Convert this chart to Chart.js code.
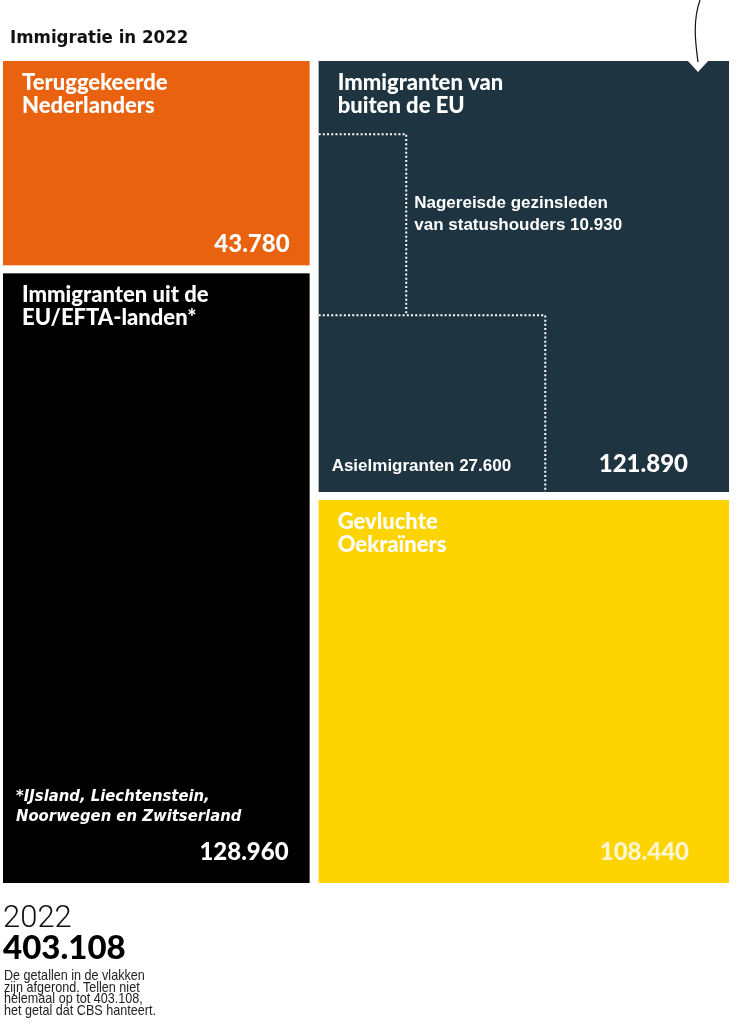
<!DOCTYPE html>
<html>
<head>
<meta charset="utf-8">
<script src="https://cdn.jsdelivr.net/npm/chart.js@4"></script>
<style>
    body { margin: 0; background: #fff; }
    #wrap { position: relative; width: 741px; height: 1024px; }
    #title { position: absolute; left: 10px; top: 26px; font: bold 18.5px "DejaVu Sans Condensed", sans-serif; color: #111; }
    #jaar { position: absolute; left: 3px; top: 898px; font: 300 31px Roboto, sans-serif; color: #111; }
    #totaal { position: absolute; left: 3px; top: 926px; font: 900 33px Lato, sans-serif; color: #000; }
    #noot { position: absolute; left: 4px; top: 969px; font: 15px/11.7px "Liberation Sans", sans-serif; color: #222;
            transform: scaleX(0.84); transform-origin: left top; white-space: nowrap; }
</style>
</head>
<body>
<div id="wrap">
    <div id="title">Immigratie in 2022</div>
    <canvas id="grafiek"></canvas>
    <div id="jaar">2022</div>
    <div id="totaal">403.108</div>
    <div id="noot">De getallen in de vlakken<br>zijn afgerond. Tellen niet<br>helemaal op tot 403.108,<br>het getal dat CBS hanteert.</div>
</div>
<script>
// Gegevens
var categorieen = [['Teruggekeerde', 'Nederlanders'], ['Immigranten uit de', 'EU/EFTA-landen*'], ['Immigranten van', 'buiten de EU'], ['Gevluchte', 'Oekraïners']];
var waarden = [43780, 128960, 121890, 108440];
var kolommen = [0, 0, 1, 1];
var subCategorieen = [['Nagereisde gezinsleden', 'van statushouders'], ['Asielmigranten']];
var subWaarden = [10930, 27600];

// Opmaak
var kleuren = ['#e8620f', '#000000', '#1e3440', '#fdd300'];
var waardeKleuren = ['#ffffff', '#ffffff', '#ffffff', '#fff6d0'];
var waardeInspring = [[20, 21], [21, 31], [41, 28], [40, 31]];
var gatX = 9, gatY = 8;
var kop = '900 22px Lato, sans-serif';
var getalFont = '900 24px Lato, sans-serif';
var subFont = 'bold 17px "Liberation Sans", Arial, sans-serif';

var totaal = waarden.reduce((a, b) => a + b, 0);
var fmt = v => v.toLocaleString('nl-NL');

// treemap: kolommen (slice) en daarbinnen gestapeld (dice)
function berekenVlakken() {
    var kolomTotaal = [0, 0];
    waarden.forEach((v, i) => kolomTotaal[kolommen[i]] += v);
    var xStart = [0, kolomTotaal[0]];
    var yPos = [0, 0];
    return waarden.map((v, i) => {
        var k = kolommen[i];
        var h = v / kolomTotaal[k];
        var r = { x0: xStart[k], x1: xStart[k] + kolomTotaal[k], y0: yPos[k], y1: yPos[k] + h };
        yPos[k] += h;
        return r;
    });
}

function naarPixels(chart, r) {
    var x = chart.scales.x, y = chart.scales.y;
    var l = x.getPixelForValue(r.x0), rr = x.getPixelForValue(r.x1);
    var t = y.getPixelForValue(r.y0), b = y.getPixelForValue(r.y1);
    if (r.x0 > x.min) l += gatX / 2;
    if (r.x1 < x.max) rr -= gatX / 2;
    if (r.y0 > y.min) t += gatY / 2;
    if (r.y1 < y.max) b -= gatY / 2;
    return { left: l, right: rr, top: t, bottom: b, w: rr - l, h: b - t };
}

var treemapPlugin = {
    id: 'treemap',
    afterDatasetsDraw(chart) {
        var ctx = chart.ctx;
        var vlakken = berekenVlakken().map(r => naarPixels(chart, r));
        ctx.save();
        vlakken.forEach((p, i) => {
            ctx.fillStyle = kleuren[i];
            ctx.fillRect(p.left, p.top, p.w, p.h);
            // kop
            ctx.fillStyle = '#ffffff';
            ctx.font = kop;
            ctx.textBaseline = 'middle';
            ctx.textAlign = 'left';
            categorieen[i].forEach((regel, j) => ctx.fillText(regel, p.left + 19, p.top + 22 + j * 23));
            // waarde
            ctx.font = getalFont;
            ctx.textAlign = 'right';
            ctx.fillStyle = waardeKleuren[i];
            ctx.fillText(fmt(waarden[i]), p.right - waardeInspring[i][0], p.bottom - waardeInspring[i][1]);
        });

        // voetnoot EU/EFTA
        var eu = vlakken[1];
        ctx.fillStyle = '#ffffff';
        ctx.textAlign = 'left';
        ctx.font = 'italic bold 16.5px "DejaVu Sans Condensed", sans-serif';
        ctx.fillText('*IJsland, Liechtenstein,', eu.left + 13, eu.bottom - 86);
        ctx.fillText('Noorwegen en Zwitserland', eu.left + 13, eu.bottom - 66);

        // onderverdeling buiten de EU
        var p = vlakken[2];
        var hAsiel = 0.41, hNage = 0.42;
        var wAsiel = subWaarden[1] / waarden[2] / hAsiel;
        var wNage = subWaarden[0] / waarden[2] / hNage;
        var asiel = { left: p.left, right: p.left + wAsiel * p.w, top: p.bottom - hAsiel * p.h, bottom: p.bottom };
        var nage = { left: p.left, right: p.left + wNage * p.w, top: asiel.top - hNage * p.h, bottom: asiel.top };
        ctx.strokeStyle = '#ffffff';
        ctx.lineWidth = 2;
        ctx.setLineDash([2, 2.2]);
        [nage, asiel].forEach(s => {
            ctx.beginPath();
            ctx.moveTo(s.left, s.top);
            ctx.lineTo(s.right, s.top);
            ctx.lineTo(s.right, s.bottom);
            ctx.stroke();
        });
        ctx.setLineDash([]);
        ctx.font = subFont;
        ctx.fillStyle = '#ffffff';
        ctx.fillText(subCategorieen[0][0], nage.right + 8, nage.top + 69);
        ctx.fillText(subCategorieen[0][1] + ' ' + fmt(subWaarden[0]), nage.right + 8, nage.top + 91);
        ctx.fillText(subCategorieen[1][0] + ' ' + fmt(subWaarden[1]), asiel.left + 13, asiel.bottom - 26);

        // inkeping en lijntje rechtsboven
        var cx = p.right - 31;
        ctx.fillStyle = '#ffffff';
        ctx.beginPath();
        ctx.moveTo(cx - 11, p.top - 1);
        ctx.lineTo(cx + 11, p.top - 1);
        ctx.lineTo(cx, p.top + 11);
        ctx.closePath();
        ctx.fill();
        ctx.strokeStyle = '#111111';
        ctx.lineWidth = 1.2;
        ctx.beginPath();
        ctx.moveTo(cx + 2, 0);
        ctx.bezierCurveTo(cx - 5, 20, cx - 3, 40, cx, p.top + 1);
        ctx.stroke();
        ctx.restore();
    }
};

var ctx = document.getElementById('grafiek').getContext('2d');
new Chart(ctx, {
    type: 'scatter',
    data: { datasets: [{ data: [] }] },
    options: {
        responsive: true,
        maintainAspectRatio: false,
        animation: false,
        events: [],
        layout: { padding: { left: 3, right: 12, top: 61, bottom: 141 } },
        plugins: { legend: { display: false }, tooltip: { enabled: false } },
        scales: {
            x: { type: 'linear', min: 0, max: totaal, display: false },
            y: { type: 'linear', min: 0, max: 1, reverse: true, display: false }
        }
    },
    plugins: [treemapPlugin]
});
</script>
</body>
</html>
